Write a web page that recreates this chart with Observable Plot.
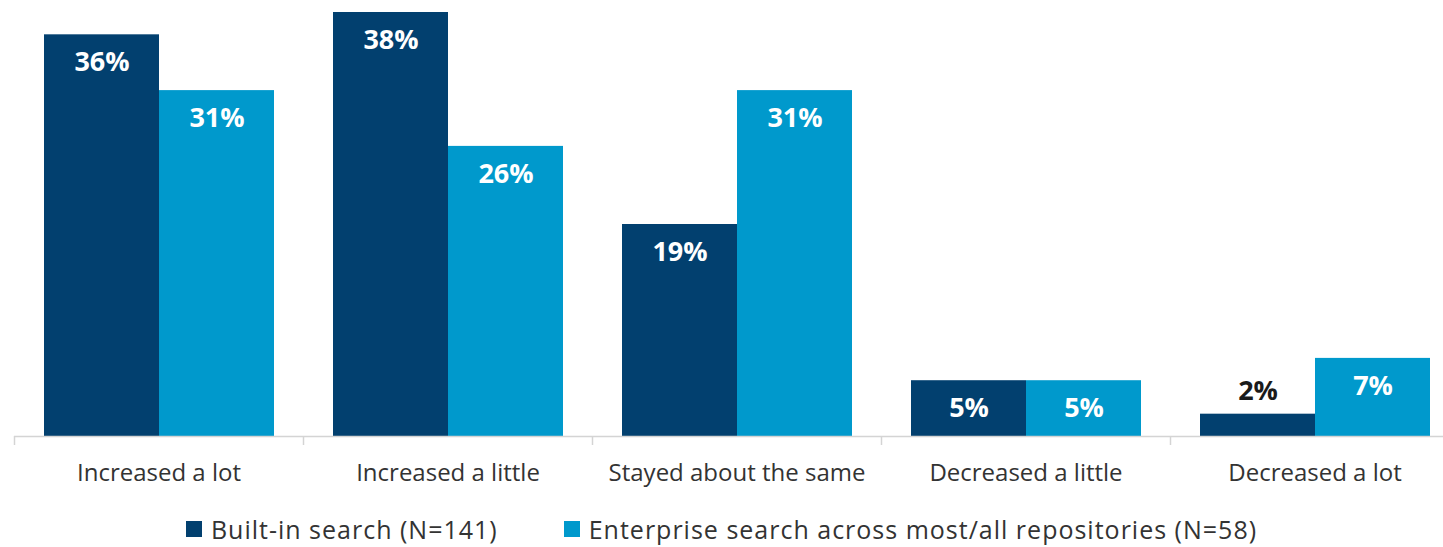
<!DOCTYPE html>
<html>
<head>
<meta charset="utf-8">
<script src="https://cdn.jsdelivr.net/npm/d3@7"></script>
<script src="https://cdn.jsdelivr.net/npm/@observablehq/plot@0.6"></script>
<style>
  html, body { margin: 0; padding: 0; background: #fff; overflow: hidden; width: 1443px; height: 547px; }
  #chart { position: absolute; left: 0; top: 0; width: 1459px; }
  #chart svg { max-width: none !important; }
  #legend { position: absolute; left: 0; top: 512px; width: 1443px; height: 34px; display: flex; justify-content: center; align-items: center; font-family: "Open Sans", sans-serif; font-size: 25px; letter-spacing: 1px; color: #333; }
  .item { display: flex; align-items: center; }
  .item + .item { margin-left: 66px; }
  .sw { width: 16px; height: 16px; margin-right: 9px; }
</style>
</head>
<body>
<div id="chart"></div>
<div id="legend"></div>
<script>
const categories = ["Increased a lot", "Increased a little", "Stayed about the same", "Decreased a little", "Decreased a lot"];
const seriesNames = ["Built-in search (N=141)", "Enterprise search across most/all repositories (N=58)"];
const builtInValues = [36, 38, 19, 5, 2];
const enterpriseValues = [31, 26, 31, 5, 7];
const colors = ["#02406f", "#0099cc"];

const data = [];
categories.forEach((c, i) => {
  data.push({category: c, series: seriesNames[0], value: builtInValues[i]});
  data.push({category: c, series: seriesNames[1], value: enterpriseValues[i]});
});

const font = "'Open Sans', sans-serif";
const chart = Plot.plot({
  width: 1459,
  height: 500,
  marginLeft: 14,
  marginRight: 0,
  marginTop: 12,
  marginBottom: 64,
  facet: {marginTop: 0, marginRight: 0, marginBottom: 0, marginLeft: 0},
  style: {fontFamily: font, background: "transparent"},
  fx: {domain: categories, padding: 0, label: null, axis: null},
  x: {domain: seriesNames, paddingInner: 0, paddingOuter: 0.25, axis: null},
  y: {domain: [0, 38], axis: null},
  color: {domain: seriesNames, range: colors},
  marks: [
    Plot.barY(data, {fx: "category", x: "series", y: "value", fill: "series"}),
    Plot.ruleY([0], {stroke: "#d4d4d4", strokeWidth: 1.5}),
    Plot.axisFx({anchor: "bottom", tickSize: 9, text: null, stroke: "#d4d4d4", strokeWidth: 1.5, dx: -144.5, label: null}),
    Plot.axisFx({anchor: "bottom", tickSize: 0, tickPadding: 27, fontSize: 24, fill: "#333", label: null}),
    Plot.text(data.filter(d => d.value >= 4), {fx: "category", x: "series", y: "value", text: d => d.value + "%", dy: 28, fill: "white", fontSize: 27, fontWeight: "bold"}),
    Plot.text(data.filter(d => d.value < 4), {fx: "category", x: "series", y: "value", text: d => d.value + "%", dy: -23, fill: "#1a1a1a", fontSize: 27, fontWeight: "bold"})
  ]
});
chart.style.maxWidth = "none";
document.getElementById("chart").appendChild(chart);

const legend = document.getElementById("legend");
seriesNames.forEach((s, i) => {
  const item = document.createElement("div");
  item.className = "item";
  const sw = document.createElement("div");
  sw.className = "sw";
  sw.style.background = colors[i];
  const label = document.createElement("span");
  label.textContent = s;
  item.appendChild(sw);
  item.appendChild(label);
  legend.appendChild(item);
});
</script>
</body>
</html>
